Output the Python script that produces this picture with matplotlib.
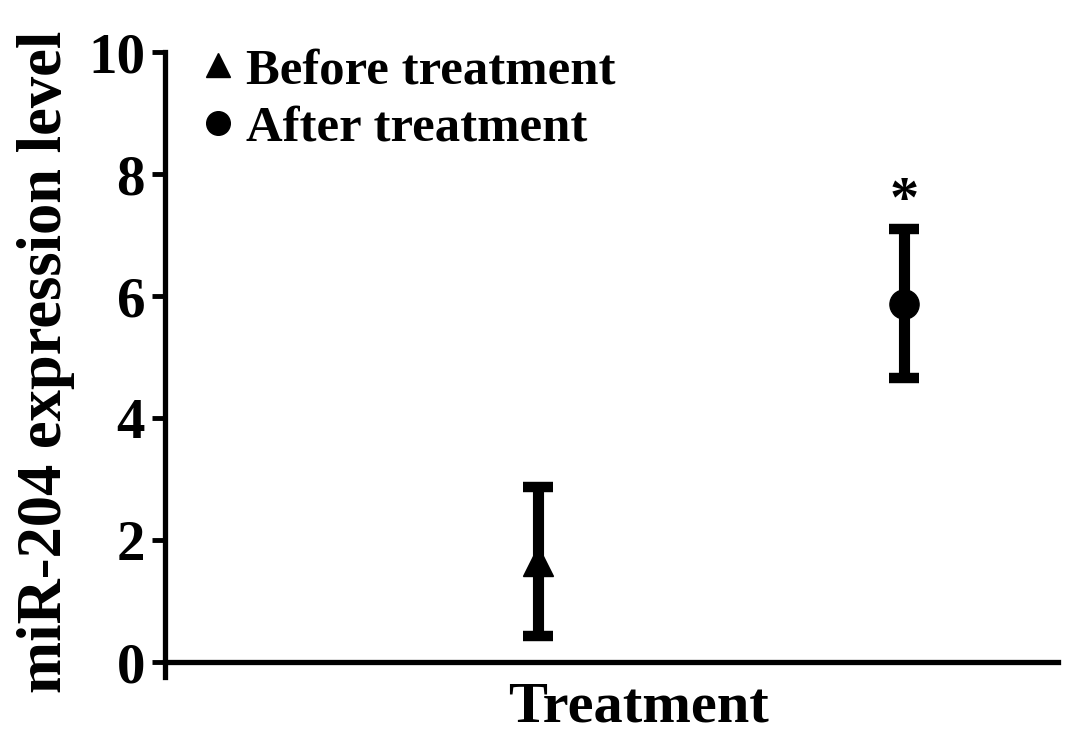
import matplotlib.pyplot as plt
from matplotlib.lines import Line2D

groups = ["Before treatment", "After treatment"]
means = [1.65, 5.88]
errs = [1.22, 1.22]
markers = ["^", "o"]
ticks = [0, 2, 4, 6, 8, 10]

plt.rcParams['font.family'] = ['Liberation Serif', 'DejaVu Serif']
plt.rcParams['font.weight'] = 'bold'

fig = plt.figure(figsize=(10.87, 7.37), dpi=100)
ax = fig.add_axes([0.152, 0.081, 0.821, 0.848])

xpos = [1, 2]
for x, m, e, mk in zip(xpos, means, errs, markers):
    ax.errorbar(x, m, yerr=e, fmt=mk, color='black', markersize=21,
                elinewidth=8, capsize=11, capthick=7.5, ecolor='black')

# significance mark
ax.text(xpos[1], means[1] + errs[1] + 0.02, "*", ha='center', va='bottom',
        fontsize=42, fontweight='bold')

ax.set_xlim(-0.02, 2.42)
ax.set_ylim(-0.25, 10)
ax.set_yticks(ticks)
ax.set_xticks([])
ax.spines['top'].set_visible(False)
ax.spines['right'].set_visible(False)
ax.spines['bottom'].set_position(('data', 0))
ax.spines['left'].set_linewidth(3.8)
ax.spines['bottom'].set_linewidth(3.8)
ax.tick_params(axis='y', length=9.5, width=3.5, labelsize=41, pad=5)
for lbl in ax.get_yticklabels():
    lbl.set_fontweight('bold')

ax.set_ylabel("miR-204 expression level", fontsize=45, fontweight='bold')
ax.yaxis.set_label_coords(-0.101, 0.505)
ax.set_xlabel("Treatment", fontsize=42, fontweight='bold')
ax.xaxis.set_label_coords(0.53, -0.006)
ax.xaxis.label.set_va('top')

handles = [Line2D([], [], marker=mk, color='black', linestyle='none', markersize=17)
           for mk in markers]
ax.legend(handles, groups, loc='upper left', frameon=False,
          handletextpad=0.05, borderaxespad=0.0, labelspacing=0.22,
          handlelength=1.0, bbox_to_anchor=(0.008, 1.04),
          prop={'weight': 'bold', 'size': 36.5})

fig.savefig("out.png", dpi=100)
